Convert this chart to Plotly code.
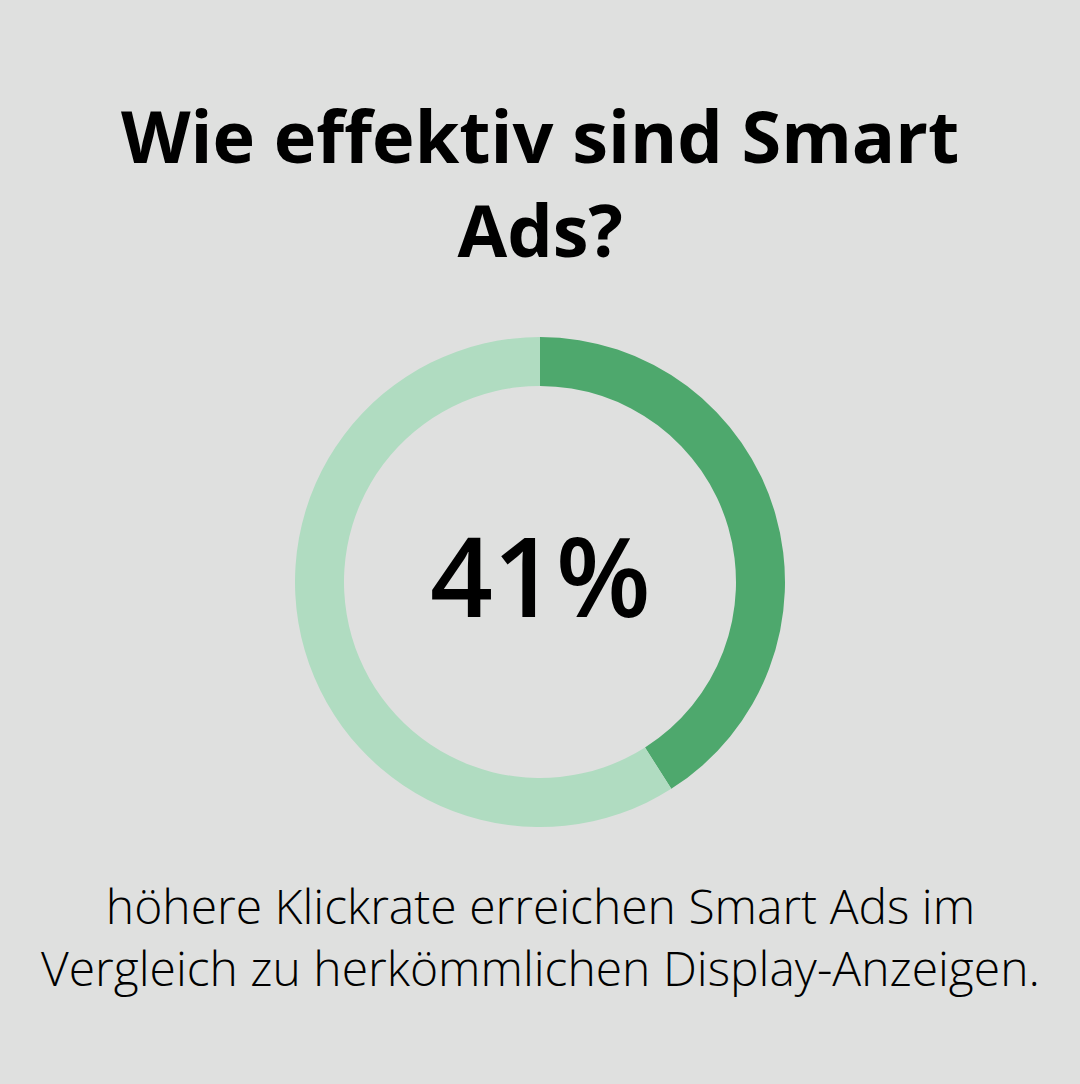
import plotly.graph_objects as go

labels = ["Smart Ads", "Rest"]
values = [41, 59]
colors = ["#4EA86D", "#B0DCC1"]
title_lines = ["Wie effektiv sind Smart", "Ads?"]
center_text = "41%"
sub_lines = ["höhere Klickrate erreichen Smart Ads im",
             "Vergleich zu herkömmlichen Display-Anzeigen."]

W, H = 1080, 1084
BG = "#DFE0DF"

def py(px):
    return (H - px) / H

fig = go.Figure(go.Pie(
    labels=labels, values=values, sort=False, direction="clockwise",
    rotation=0, hole=0.8, textinfo="none", hoverinfo="skip",
    marker=dict(colors=colors, line=dict(width=0)),
    domain=dict(x=[295 / W, 785 / W], y=[py(827), py(337)]),
))

ann = [
    dict(text="<br>".join(title_lines), x=0.5, y=py(182), xref="paper", yref="paper",
         xanchor="center", yanchor="middle", showarrow=False, align="center",
         font=dict(family="Open Sans", size=72, color="#000000", weight=700)),
    dict(text=center_text, x=0.5, y=py(574), xref="paper", yref="paper",
         xanchor="center", yanchor="middle", showarrow=False,
         font=dict(family="Open Sans", size=110, color="#000000", weight=600)),
    dict(text="<br>".join(sub_lines), x=0.5, y=py(936), xref="paper", yref="paper",
         xanchor="center", yanchor="middle", showarrow=False, align="center",
         font=dict(family="Open Sans", size=48, color="#000000", weight=300)),
]

fig.update_layout(
    width=W, height=H, margin=dict(l=0, r=0, t=0, b=0),
    paper_bgcolor=BG, plot_bgcolor=BG, showlegend=False,
    annotations=ann,
)
fig.write_html("out.html")
